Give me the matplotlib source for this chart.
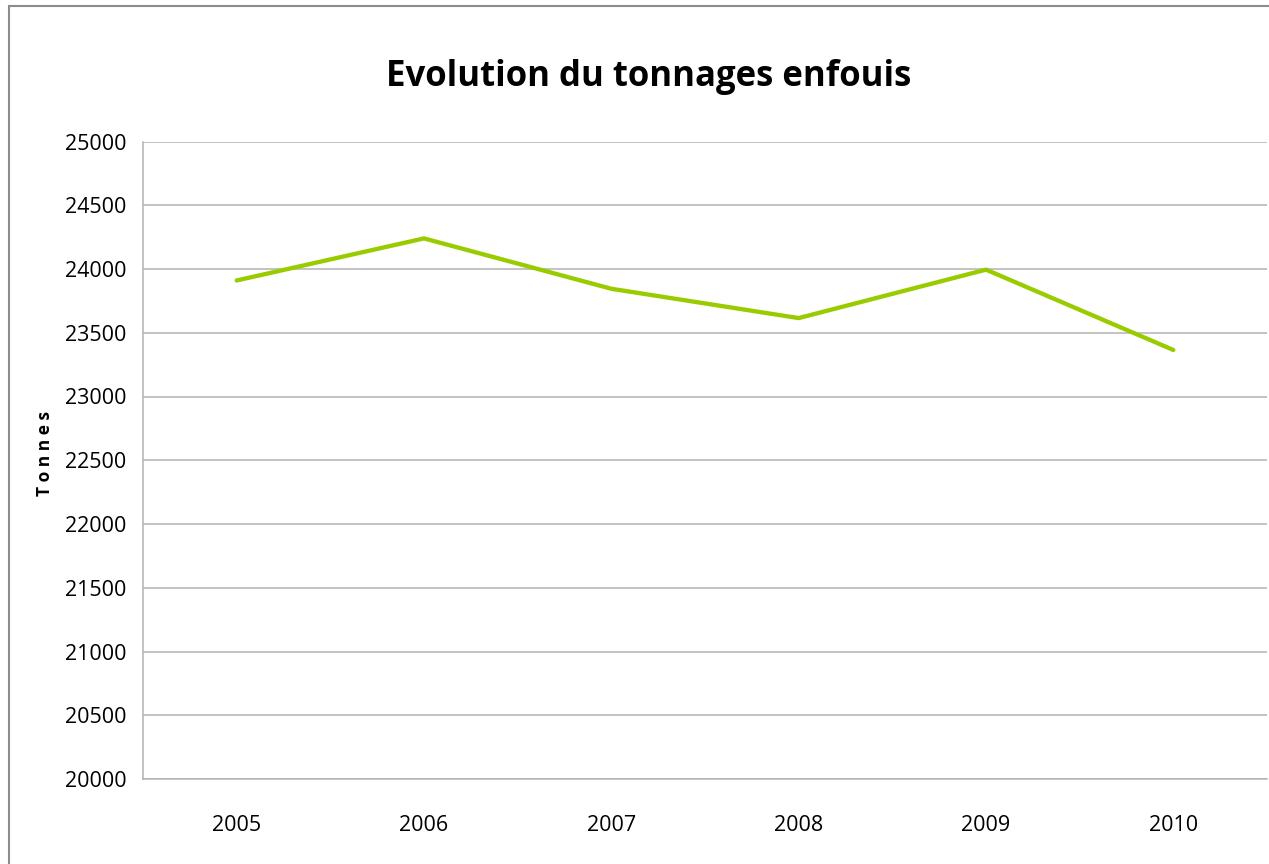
import matplotlib
matplotlib.use("Agg")
import matplotlib.pyplot as plt
import matplotlib.patches as patches

# --- données ---
annees = ["2005", "2006", "2007", "2008", "2009", "2010"]
tonnages = [23910, 24240, 23845, 23615, 23995, 23365]
y_ticks = [20000, 20500, 21000, 21500, 22000, 22500, 23000, 23500, 24000, 24500, 25000]

plt.rcParams['font.family'] = ['Open Sans', 'DejaVu Sans']

W, H = 1269, 864
fig = plt.figure(figsize=(W / 100, H / 100), dpi=100)

# cadre extérieur du graphique (coupé à droite et en bas)
fig.patches.append(patches.Rectangle((9 / W, -0.05), 1.1, 1 - 6 / H + 0.05,
                                     transform=fig.transFigure, fill=False,
                                     edgecolor='#8c8c8c', linewidth=1.5))

ax = fig.add_axes([143 / W, 1 - 779 / H, (1267 - 143) / W, (779 - 141.5) / H])
x = list(range(len(annees)))
ax.plot(x, tonnages, color='#99cc00', linewidth=3.1, solid_capstyle='round', zorder=3)

ax.set_xlim(-0.5, len(annees) - 0.5)
ax.set_ylim(20000, 25000)
ax.set_yticks(y_ticks)
ax.set_yticklabels([str(v) for v in y_ticks], fontsize=15.5)
ax.set_xticks(x)
ax.set_xticklabels(annees, fontsize=15.5)
ax.tick_params(axis='both', length=0, colors='black')
ax.tick_params(axis='y', pad=12)
ax.tick_params(axis='x', pad=26)

ax.grid(axis='y', color='#b3b3b3', linewidth=1.1)
ax.set_axisbelow(True)
for side in ['top', 'right']:
    ax.spines[side].set_visible(False)
for side in ['left', 'bottom']:
    ax.spines[side].set_color('#b3b3b3')
    ax.spines[side].set_linewidth(1.1)

fig.text(649 / W, 1 - 77 / H, "Evolution du tonnages enfouis", ha='center', va='center',
         fontsize=25, fontweight='bold')
fig.text(45 / W, 1 - 453 / H, "T o n n e s", ha='center', va='center', rotation=90,
         fontsize=12.5, fontweight='bold')

fig.savefig("out.png", dpi=100)
plt.close()
